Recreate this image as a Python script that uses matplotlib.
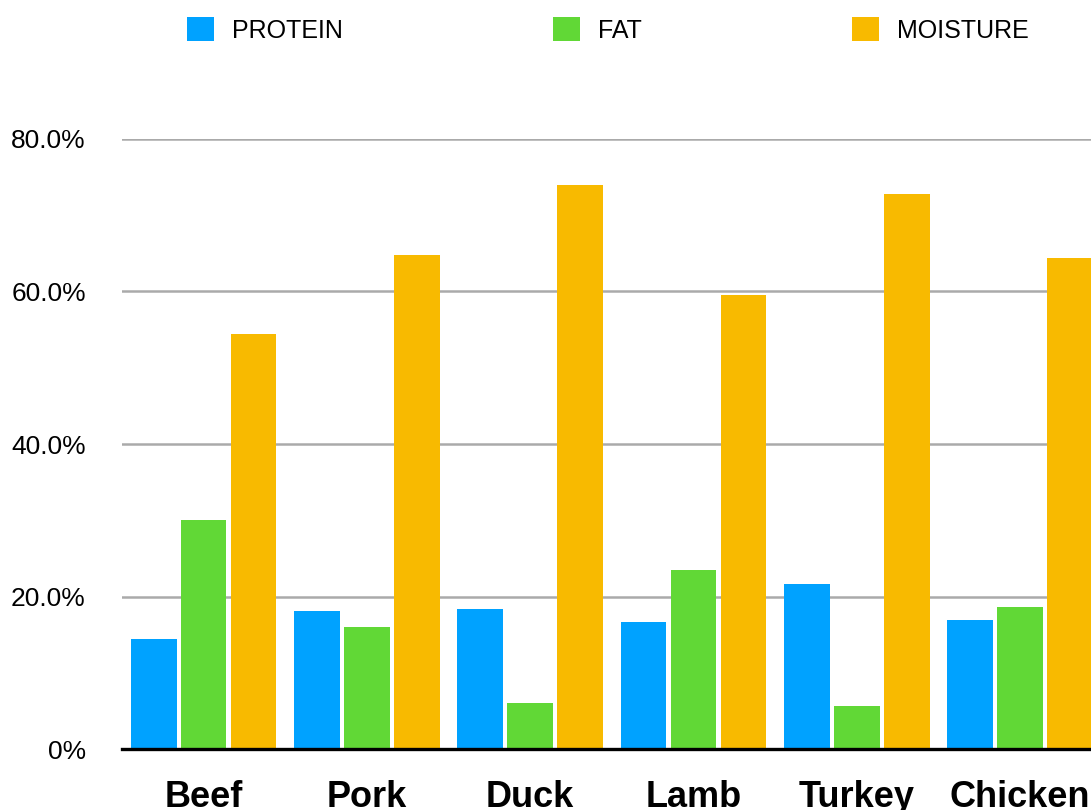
import matplotlib.pyplot as plt
import numpy as np

plt.rcParams['font.family'] = ['Liberation Sans', 'DejaVu Sans']

categories = ['Beef', 'Pork', 'Duck', 'Lamb', 'Turkey', 'Chicken']
protein = [14.4, 18.1, 18.4, 16.7, 21.6, 16.9]
fat = [30.0, 16.0, 6.0, 23.5, 5.6, 18.6]
moisture = [54.4, 64.8, 74.0, 59.5, 72.8, 64.4]

series = [('PROTEIN', protein, '#00A2FF'),
          ('FAT', fat, '#61D836'),
          ('MOISTURE', moisture, '#F8BA00')]
yticks = [0, 20, 40, 60, 80]
ytick_labels = ['0%', '20.0%', '40.0%', '60.0%', '80.0%']

fig = plt.figure(figsize=(10.91, 8.10), dpi=100)
ax = fig.add_axes([0.1118, 0.0753, 0.898, 0.7531])

x = np.arange(len(categories))
step = 0.306
width = 0.28
for i, (name, vals, color) in enumerate(series):
    ax.bar(x + (i - 1) * step, vals, width, color=color, label=name, zorder=2)

ax.set_xlim(-0.5, len(categories) - 0.5)
ax.set_ylim(0, 80)
ax.set_yticks(yticks)
ax.set_yticklabels(ytick_labels)
ax.set_xticks(x)
ax.set_xticklabels(categories, fontsize=26, fontweight='bold')
ax.tick_params(axis='y', length=0, pad=26, labelsize=19)
ax.tick_params(axis='x', length=0, pad=22)
ax.yaxis.grid(True, color='#AAAAAA', linewidth=1.8, zorder=1)
ax.set_axisbelow(True)

for side in ['top', 'right', 'left']:
    ax.spines[side].set_visible(False)
ax.spines['bottom'].set_linewidth(2.4)
ax.spines['bottom'].set_color('black')
ax.spines['bottom'].set_zorder(3)

fig.legend(loc='center left', bbox_to_anchor=(0.1714, 0.963), ncol=3,
           frameon=False, fontsize=18, handlelength=1.08, handleheight=1.08,
           handletextpad=0.72, columnspacing=8.4, borderpad=0, borderaxespad=0)

fig.savefig('out.png', dpi=100)
